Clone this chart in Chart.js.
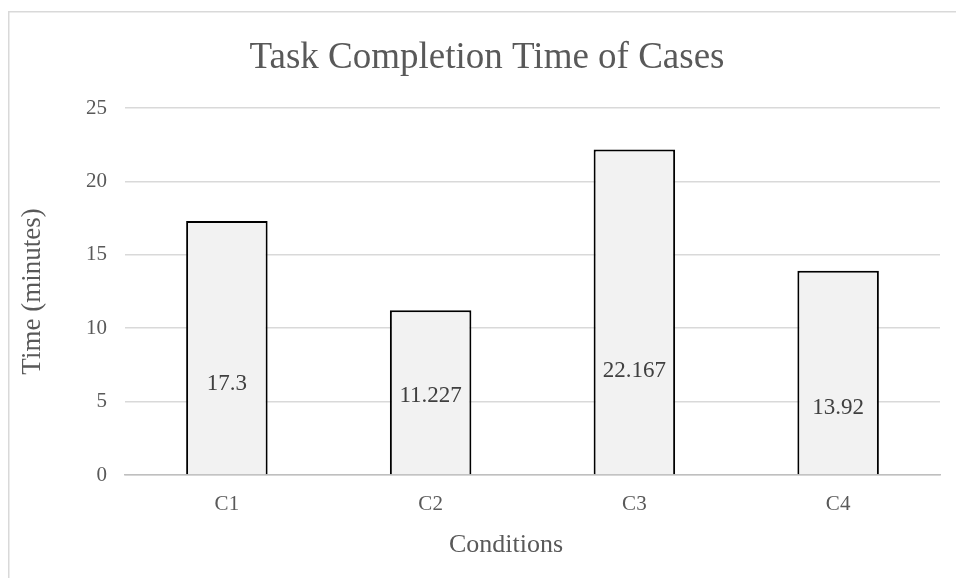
<!DOCTYPE html>
<html>
<head>
<meta charset="utf-8">
<script src="https://cdn.jsdelivr.net/npm/chart.js@4.4.1/dist/chart.umd.min.js"></script>
<style>
  html, body { margin: 0; padding: 0; background: #ffffff; }
  #wrap { width: 956px; height: 578px; position: relative; }
</style>
</head>
<body>
<div id="wrap"><canvas id="chart" width="956" height="578"></canvas></div>
<script>
// Task completion time per condition (minutes)
const categories = ['C1', 'C2', 'C3', 'C4'];
const completionTimes = [17.3, 11.227, 22.167, 13.92];
const yTicks = [0, 5, 10, 15, 20, 25];

const chartTitle = 'Task Completion Time of Cases';
const xAxisTitle = 'Conditions';
const yAxisTitle = 'Time (minutes)';

const SERIF = '"Liberation Serif", "Times New Roman", serif';
const TEXT = '#595959';

// Light frame around the whole chart, running off the right and bottom edges
const framePlugin = {
  id: 'frame',
  beforeDraw(chart) {
    const ctx = chart.ctx;
    ctx.save();
    ctx.fillStyle = '#ffffff';
    ctx.fillRect(0, 0, chart.width, chart.height);
    ctx.strokeStyle = '#d9d9d9';
    ctx.lineWidth = 1.5;
    ctx.beginPath();
    ctx.moveTo(8.75, chart.height + 2);
    ctx.lineTo(8.75, 11.75);
    ctx.lineTo(chart.width + 2, 11.75);
    ctx.stroke();
    ctx.restore();
  }
};

// Chart heading and horizontal axis caption, placed within the frame
const captionPlugin = {
  id: 'captions',
  afterDraw(chart, args, opts) {
    const ctx = chart.ctx;
    ctx.save();
    ctx.fillStyle = TEXT;
    ctx.textAlign = 'center';
    ctx.textBaseline = 'middle';
    ctx.font = opts.titleFont;
    ctx.fillText(chartTitle, opts.titleX, opts.titleY);
    ctx.font = opts.axisFont;
    ctx.fillText(xAxisTitle, opts.axisX, opts.axisY);
    ctx.restore();
  }
};

// Value labels written inside each bar
const valueLabelPlugin = {
  id: 'valueLabels',
  afterDatasetsDraw(chart, args, opts) {
    const ctx = chart.ctx;
    const meta = chart.getDatasetMeta(0);
    const yScale = chart.scales.y;
    ctx.save();
    ctx.font = opts.font;
    ctx.fillStyle = opts.color;
    ctx.textAlign = 'center';
    ctx.textBaseline = 'middle';
    meta.data.forEach((bar, i) => {
      const v = chart.data.datasets[0].data[i];
      const base = yScale.getPixelForValue(0);
      const top = yScale.getPixelForValue(v);
      const y = base + (top - base) * opts.anchor[i];
      ctx.fillText(String(v), bar.x, y);
    });
    ctx.restore();
  }
};

new Chart(document.getElementById('chart'), {
  type: 'bar',
  data: {
    labels: categories,
    datasets: [{
      data: completionTimes,
      backgroundColor: '#f2f2f2',
      borderColor: '#000000',
      borderWidth: 2,
      borderSkipped: 'bottom',
      barPercentage: 0.4,
      categoryPercentage: 1.0
    }]
  },
  options: {
    responsive: false,
    animation: false,
    devicePixelRatio: 1,
    layout: { padding: { left: 0, right: 16, top: 108, bottom: 0 } },
    plugins: {
      legend: { display: false },
      tooltip: { enabled: false },
      title: { display: false },
      captions: {
        titleFont: '37px ' + SERIF,
        titleX: 487,
        titleY: 58,
        axisFont: '26px ' + SERIF,
        axisX: 506,
        axisY: 545
      },
      valueLabels: {
        font: '23px ' + SERIF,
        color: '#404040',
        anchor: [0.36, 0.48, 0.32, 0.33]
      }
    },
    scales: {
      x: {
        grid: { display: false, drawTicks: false },
        border: { display: true, color: '#bfbfbf', width: 1.5 },
        ticks: { color: TEXT, font: { family: SERIF, size: 21 }, padding: 17 },
        title: { display: false },
        afterFit(scale) { scale.height = 103; }
      },
      y: {
        min: 0,
        max: 25,
        afterBuildTicks(scale) { scale.ticks = yTicks.map(v => ({ value: v })); },
        grid: { color: '#d9d9d9', lineWidth: 1.5, drawTicks: false },
        border: { display: false },
        ticks: { color: TEXT, font: { family: SERIF, size: 21 }, padding: 18 },
        title: {
          display: true,
          text: yAxisTitle,
          color: TEXT,
          font: { family: SERIF, size: 27, lineHeight: 1.2 },
          padding: { top: 17, bottom: 0 }
        },
        afterFit(scale) { scale.width = 125; }
      }
    }
  },
  plugins: [framePlugin, captionPlugin, valueLabelPlugin]
});
</script>
</body>
</html>
